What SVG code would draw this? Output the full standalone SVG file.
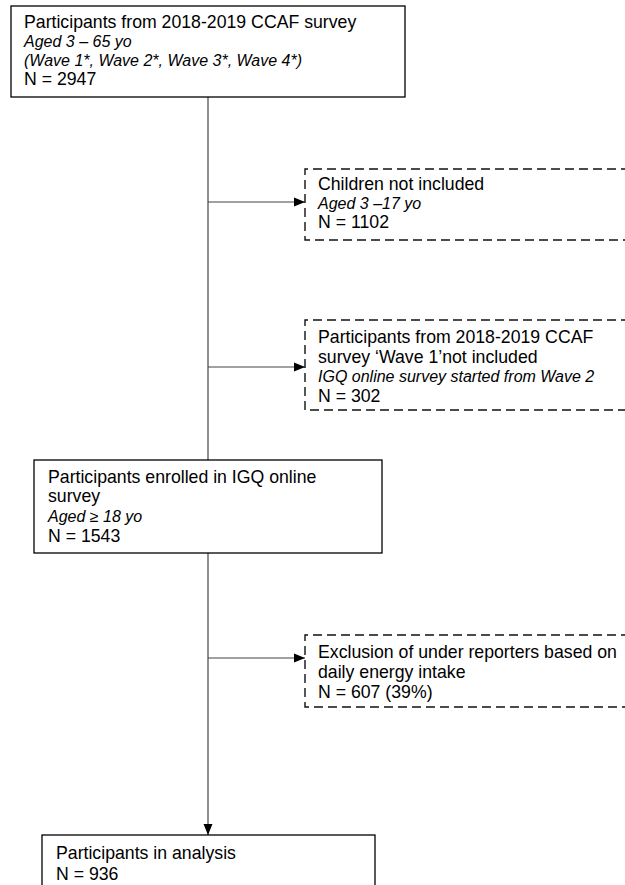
<svg xmlns="http://www.w3.org/2000/svg" width="625" height="885" viewBox="0 0 625 885">
<defs>
<style>
.box{fill:#fff;stroke:#000;stroke-width:1.3}
.dbox{fill:none;stroke:#111;stroke-width:1.4;stroke-dasharray:9 5}
.t{font-family:"Liberation Sans",Arial,sans-serif;font-size:17.7px;fill:#000}
.i{font-family:"Liberation Sans",Arial,sans-serif;font-size:16px;font-style:italic;fill:#000}
.ln{stroke:#444;stroke-width:1.2;fill:none}
</style>
<marker id="ah" markerWidth="11" markerHeight="10" refX="11" refY="5" orient="auto" markerUnits="userSpaceOnUse">
<path d="M0,0.5 L11,5 L0,9.5 Z" fill="#000"/>
</marker>
</defs>
<rect width="625" height="885" fill="#fff"/>
<g id="connectors">
<line class="ln" x1="208" y1="97" x2="208" y2="460"/>
<line class="ln" x1="208" y1="202" x2="305" y2="202" marker-end="url(#ah)"/>
<line class="ln" x1="208" y1="367" x2="305" y2="367" marker-end="url(#ah)"/>
<line class="ln" x1="208" y1="553" x2="208" y2="835" marker-end="url(#ah)"/>
<line class="ln" x1="208" y1="658" x2="305" y2="658" marker-end="url(#ah)"/>
</g>
<g id="n1">
<rect class="box" x="11" y="6" width="394" height="91"/>
<text class="t" x="24" y="28">Participants from 2018-2019 CCAF survey</text>
<text class="i" x="24" y="47">Aged 3 – 65 yo</text>
<text class="i" x="24" y="66">(Wave 1*, Wave 2*, Wave 3*, Wave 4*)</text>
<text class="t" x="24" y="85">N = 2947</text>
</g>
<g id="n2">
<path class="dbox" d="M630,169 H305 V240 H630"/>
<text class="t" x="318" y="190">Children not included</text>
<text class="i" x="318" y="209">Aged 3 –17 yo</text>
<text class="t" x="318" y="228">N = 1102</text>
</g>
<g id="n3">
<path class="dbox" d="M630,320 H305 V410 H630"/>
<text class="t" x="318" y="343">Participants from 2018-2019 CCAF</text>
<text class="t" x="318" y="363">survey ‘Wave 1’not included</text>
<text class="i" x="318" y="382">IGQ online survey started from Wave 2</text>
<text class="t" x="318" y="402">N = 302</text>
</g>
<g id="n4">
<rect class="box" x="34" y="460" width="348" height="93"/>
<text class="t" x="48" y="483">Participants enrolled in IGQ online</text>
<text class="t" x="48" y="502">survey</text>
<text class="i" x="48" y="522">Aged ≥ 18 yo</text>
<text class="t" x="48" y="542">N = 1543</text>
</g>
<g id="n5">
<path class="dbox" d="M630,635 H305 V707 H630"/>
<text class="t" x="318" y="658">Exclusion of under reporters based on</text>
<text class="t" x="318" y="678">daily energy intake</text>
<text class="t" x="318" y="698">N = 607 (39%)</text>
</g>
<g id="n6">
<rect class="box" x="42" y="835" width="333" height="60"/>
<text class="t" x="56" y="859">Participants in analysis</text>
<text class="t" x="56" y="880">N = 936</text>
</g>
</svg>
